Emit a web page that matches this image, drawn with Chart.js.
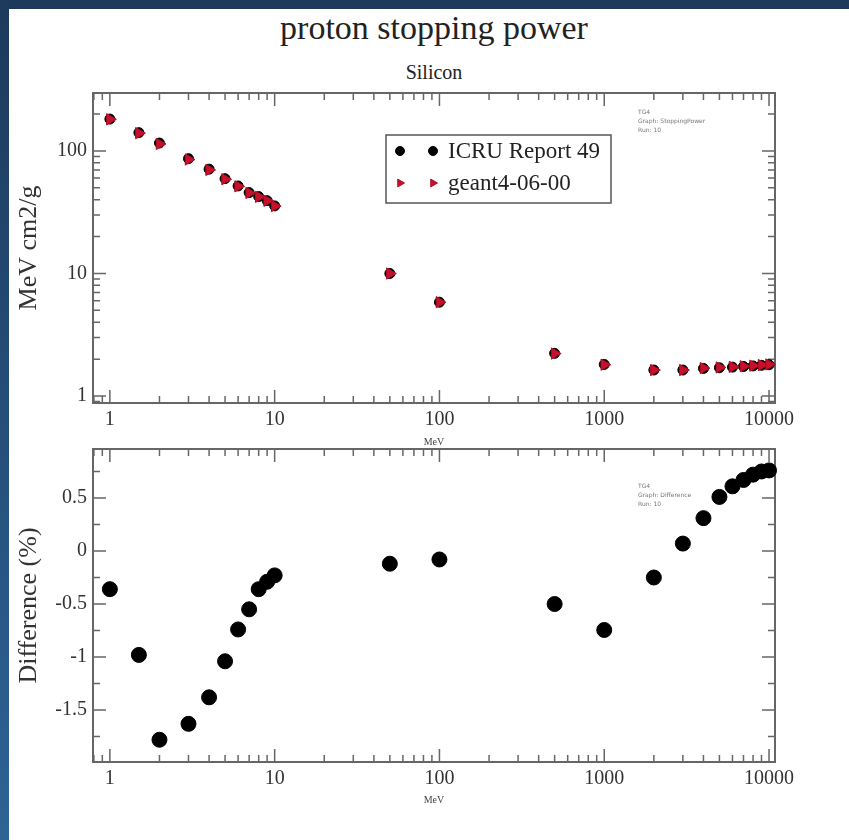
<!DOCTYPE html>
<html>
<head>
<meta charset="utf-8">
<script src="https://cdn.jsdelivr.net/npm/chart.js@4.4.0/dist/chart.umd.min.js"></script>
<style>
  html, body { margin: 0; padding: 0; background: #fff; }
  body { width: 849px; height: 840px; position: relative; overflow: hidden; }
  #edgeTop { position: absolute; left: 0; top: 0; width: 849px; height: 9px; background: #1d3a5c; }
  #edgeLeft { position: absolute; left: 0; top: 0; width: 9px; height: 840px; background: linear-gradient(#1d3a5c, #2e6396); }
  .ttl { position: absolute; left: 0; width: 868px; text-align: center; font-family: "Liberation Serif", serif; color: #222; }
  canvas { position: absolute; left: 0; }
  #topChart { top: 0; }
  #bottomChart { top: 430px; }
</style>
</head>
<body>
<div id="edgeTop"></div>
<div id="edgeLeft"></div>
<div class="ttl" style="top:8px; font-size:34px; line-height:40px;">proton stopping power</div>
<div class="ttl" style="top:60px; font-size:20px; line-height:24px;">Silicon</div>
<canvas id="topChart" width="849" height="450"></canvas>
<canvas id="bottomChart" width="849" height="410"></canvas>
<script>
// proton energies (MeV)
const energyMeV = [1, 1.5, 2, 3, 4, 5, 6, 7, 8, 9, 10, 50, 100, 500, 1000, 2000, 3000, 4000, 5000, 6000, 7000, 8000, 9000, 10000];
// stopping power, MeV cm2/g
const icruValues = [182, 141, 116, 86.5, 71, 59.4, 51.8, 45.7, 42.4, 39.3, 35.6, 10.0, 5.83, 2.23, 1.81, 1.63, 1.63, 1.68, 1.70, 1.72, 1.74, 1.76, 1.78, 1.80];
const geantValues = [181.3, 139.6, 114, 85.1, 70, 58.8, 51.4, 45.4, 42.2, 39.2, 35.5, 9.99, 5.83, 2.22, 1.80, 1.63, 1.63, 1.69, 1.71, 1.73, 1.75, 1.77, 1.79, 1.81];
// difference geant4 vs ICRU (%)
const diffPercent = [-0.36, -0.98, -1.78, -1.63, -1.38, -1.04, -0.74, -0.55, -0.36, -0.29, -0.23, -0.12, -0.08, -0.50, -0.745, -0.25, 0.07, 0.31, 0.51, 0.61, 0.67, 0.72, 0.75, 0.76];

const xTickLabels = [1, 10, 100, 1000, 10000];
const topYTickLabels = [1, 10, 100];
const bottomYTickLabels = [-1.5, -1, -0.5, 0, 0.5];

const serif = '"Liberation Serif", "Times New Roman", serif';

// minor tick marks for a log axis (2..9 in each decade)
function logMinors(min, max) {
  const out = [];
  for (let d = Math.floor(Math.log10(min)); d <= Math.ceil(Math.log10(max)); d++) {
    for (let m = 2; m <= 9; m++) {
      const v = m * Math.pow(10, d);
      if (v >= min && v <= max) out.push(v);
    }
  }
  return out;
}

// xmgrace-like box with inward ticks on all four sides
const frameTicks = {
  id: 'frameTicks',
  beforeDatasetsDraw(chart, args, opts) {
    const ctx = chart.ctx;
    const a = chart.chartArea;
    const sx = chart.scales.x, sy = chart.scales.y;
    ctx.save();
    ctx.strokeStyle = '#666';
    ctx.lineWidth = 1.5;
    ctx.beginPath();
    const tick = (scale, vals, len, horiz) => vals.forEach(v => {
      const p = scale.getPixelForValue(v);
      if (horiz) {
        ctx.moveTo(p, a.bottom); ctx.lineTo(p, a.bottom - len);
        ctx.moveTo(p, a.top); ctx.lineTo(p, a.top + len);
      } else {
        ctx.moveTo(a.left, p); ctx.lineTo(a.left + len, p);
        ctx.moveTo(a.right, p); ctx.lineTo(a.right - len, p);
      }
    });
    tick(sx, xTickLabels, 13, true);
    tick(sx, logMinors(sx.min, sx.max), 7, true);
    tick(sy, opts.yMajor, 13, false);
    tick(sy, opts.yMinor, 7, false);
    ctx.stroke();
    ctx.lineWidth = 2;
    ctx.strokeRect(a.left, a.top, a.right - a.left, a.bottom - a.top);
    // small run note
    ctx.fillStyle = '#777';
    ctx.font = '6px "DejaVu Sans", sans-serif';
    ctx.textBaseline = 'middle';
    opts.note.forEach((t, i) => ctx.fillText(t, a.right - 137, a.top + opts.noteTop + i * 9));
    ctx.restore();
  },
  afterDatasetsDraw(chart, args, opts) {
    if (!opts.legendBox) return;
    const ctx = chart.ctx;
    const a = chart.chartArea;
    const bx = a.left + 293, by = a.top + 42, bw = 225, bh = 68;
    ctx.save();
    ctx.fillStyle = '#fff';
    ctx.fillRect(bx, by, bw, bh);
    ctx.strokeStyle = '#555';
    ctx.lineWidth = 1.5;
    ctx.strokeRect(bx, by, bw, bh);
    chart.data.datasets.forEach((ds, i) => {
      const y = by + 16 + i * 32;
      ctx.fillStyle = ds.backgroundColor;
      ctx.strokeStyle = ds.borderColor;
      ctx.lineWidth = 1;
      [bx + 14, bx + 47].forEach(x => {
        Chart.helpers.drawPoint(ctx, { pointStyle: ds.pointStyle, rotation: ds.pointRotation || 0, radius: 4.5, borderWidth: 1 }, x, y);
      });
      ctx.fillStyle = '#222';
      ctx.font = '23px ' + serif;
      ctx.textBaseline = 'middle';
      ctx.fillText(ds.label, bx + 62, y + 1);
    });
    ctx.restore();
  }
};

function xAxis(height) {
  return {
    type: 'logarithmic', min: 0.79, max: 10870,
    afterBuildTicks: s => { s.ticks = xTickLabels.map(v => ({ value: v })); },
    afterFit: s => { s.height = height; },
    grid: { display: false, drawTicks: false }, border: { display: false },
    ticks: { font: { family: serif, size: 20 }, color: '#333', padding: 5, maxRotation: 0, autoSkip: false, callback: v => String(v) },
    title: { display: true, text: 'MeV', font: { family: serif, size: 10 }, color: '#444', padding: { top: 0, bottom: 2 } }
  };
}

function yAxis(base, labels, title) {
  return Object.assign(base, {
    afterBuildTicks: s => { s.ticks = labels.map(v => ({ value: v })); },
    afterFit: s => { s.width = 83; },
    grid: { display: false, drawTicks: false }, border: { display: false },
    ticks: { font: { family: serif, size: 20 }, color: '#333', padding: 6, autoSkip: false, callback: v => String(v) },
    title: { display: true, text: title, font: { family: serif, size: 26 }, color: '#333', padding: { top: 4, bottom: 0 } }
  });
}

const points = vals => energyMeV.map((e, i) => ({ x: e, y: vals[i] }));

new Chart(document.getElementById('topChart'), {
  type: 'scatter',
  data: {
    datasets: [
      { label: 'ICRU Report 49', data: points(icruValues), pointStyle: 'circle', pointRadius: 5,
        backgroundColor: '#000', borderColor: '#000', order: 1, clip: false },
      { label: 'geant4-06-00', data: points(geantValues), pointStyle: 'triangle', pointRotation: 90, pointRadius: 6.5,
        backgroundColor: '#c8102e', borderColor: '#a8101f', borderWidth: 1, order: 0, clip: false }
    ]
  },
  options: {
    responsive: false, animation: false, events: [],
    layout: { padding: { left: 10, right: 74, top: 93, bottom: 0 } },
    plugins: {
      legend: { display: false }, tooltip: { enabled: false },
      frameTicks: {
        yMajor: topYTickLabels, yMinor: logMinors(0.877, 297),
        note: ['TG4', 'Graph: StoppingPower', 'Run: 10'], noteTop: 19, legendBox: true
      }
    },
    scales: {
      x: xAxis(47),
      y: yAxis({ type: 'logarithmic', min: 0.877, max: 297 }, topYTickLabels, 'MeV cm2/g')
    }
  },
  plugins: [frameTicks]
});

new Chart(document.getElementById('bottomChart'), {
  type: 'scatter',
  data: {
    datasets: [
      { label: 'Difference', data: points(diffPercent), pointStyle: 'circle', pointRadius: 7.5,
        backgroundColor: '#000', borderColor: '#000', clip: false }
    ]
  },
  options: {
    responsive: false, animation: false, events: [],
    layout: { padding: { left: 10, right: 74, top: 19, bottom: 32 } },
    plugins: {
      legend: { display: false }, tooltip: { enabled: false },
      frameTicks: {
        yMajor: bottomYTickLabels, yMinor: [-1.75, -1.25, -0.75, -0.25, 0.25, 0.75],
        note: ['TG4', 'Graph: Difference', 'Run: 10'], noteTop: 37, legendBox: false
      }
    },
    scales: {
      x: xAxis(46),
      y: yAxis({ type: 'linear', min: -1.99, max: 0.962 }, bottomYTickLabels, 'Difference (%)')
    }
  },
  plugins: [frameTicks]
});
</script>
</body>
</html>
